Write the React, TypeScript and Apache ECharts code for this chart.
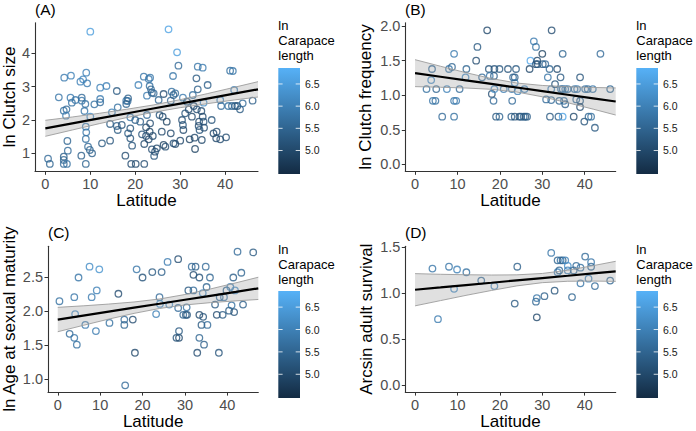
import React, { useEffect, useRef } from 'react';
import * as echarts from 'echarts';

// ---------- data ----------
const latTicks = [0, 10, 20, 30, 40];
const colorTicks = [5.0, 5.5, 6.0, 6.5];
const legendTitle = ['ln', 'Carapace', 'length'];
const fitLat = [0, 6, 12, 18, 24, 30, 36, 42, 47.3];

// [latitude, value, ln carapace length]
const clutchSize = [
  [0.6,0.84,5.6],[1.0,0.68,5.5],[3.0,2.68,5.8],[4.2,3.27,5.9],[4.1,2.28,5.7],[4.7,2.32,5.6],[4.6,2.13,5.9],[4.1,0.9,5.4],[4.1,0.8,5.5],[4.1,0.68,5.6],
  [4.8,0.68,5.7],[4.9,1.37,5.5],[5.0,1.08,5.6],[5.7,3.33,6.0],[5.6,2.67,5.9],[5.9,2.52,5.7],[6.7,2.6,5.8],[7.8,3.15,6.0],[8.4,3.22,6.1],[8.1,2.67,5.6],
  [8.1,2.58,5.8],[8.9,2.48,5.7],[9.1,3.42,6.0],[9.3,3.1,5.9],[8.7,2.27,5.8],[9.0,1.8,5.9],[9.1,1.63,5.8],[9.0,1.43,5.7],[8.0,0.93,5.4],[9.0,0.68,5.5],
  [9.5,1.2,5.6],[9.9,1.1,5.5],[10.4,1.0,5.4],[10.0,2.1,6.2],[10.0,4.65,6.5],[10.9,2.47,5.7],[12.2,2.63,5.9],[12.2,2.53,5.6],[12.2,2.97,6.0],[13.6,3.02,6.0],
  [12.6,1.3,5.3],[14.4,1.38,5.2],[14.4,1.88,5.3],[14.8,2.23,6.0],[15.9,2.87,5.3],[16.1,2.38,5.7],[15.9,1.82,5.4],[16.1,1.7,5.3],[17.0,1.85,5.2],[17.8,0.93,5.1],
  [18.0,2.58,5.8],[18.0,2.48,5.5],[18.4,2.65,5.4],[18.3,2.57,5.6],[18.4,1.6,5.3],[18.9,1.45,5.2],[19.1,0.68,5.1],[19.3,1.23,5.2],[18.9,1.75,5.2],[18.9,2.08,5.8],
  [20.1,0.68,5.0],[20.0,2.0,5.4],[20.7,3.05,6.0],[21.1,1.95,5.4],[21.9,3.3,5.8],[21.5,1.57,5.2],[22.0,0.68,5.1],[22.0,1.28,5.0],[22.4,1.52,5.1],[22.4,1.78,5.0],
  [22.6,2.15,5.6],[22.6,2.73,5.9],[23.0,3.23,5.9],[23.3,3.27,5.8],[23.2,3.02,5.7],[23.5,2.92,5.5],[23.7,2.82,5.4],[23.0,1.42,5.0],[23.3,1.9,5.1],[23.2,1.65,4.9],
  [24.1,2.8,5.6],[23.7,1.12,5.1],[24.2,0.92,5.2],[24.4,1.05,5.1],[24.8,1.15,5.0],[23.9,1.52,5.0],[25.2,2.6,5.5],[25.4,2.15,5.2],[25.9,1.65,5.0],[26.1,2.1,5.0],
  [26.3,2.78,5.1],[26.3,1.25,4.9],[26.7,1.2,5.1],[27.0,1.95,4.9],[27.9,1.6,5.0],[27.9,2.58,5.6],[28.1,2.85,5.7],[28.4,3.32,5.8],[28.5,2.75,5.4],[28.9,2.8,5.6],
  [28.5,1.3,5.2],[28.9,1.28,5.0],[27.4,4.72,6.6],[29.3,4.03,6.5],[29.6,3.63,5.6],[30.0,1.38,5.0],[30.4,2.0,5.1],[30.6,1.85,5.2],[30.7,1.7,5.0],[30.6,2.67,5.9],
  [31.1,2.2,5.2],[31.5,2.55,5.3],[31.9,2.32,5.0],[32.1,1.42,4.9],[32.6,2.1,5.0],[33.0,2.42,5.1],[32.8,2.75,5.7],[33.6,3.25,5.3],[33.3,1.13,4.9],[33.2,1.47,5.0],
  [33.7,2.32,5.1],[33.9,2.92,5.4],[33.9,3.6,5.8],[35.0,3.57,5.9],[34.2,1.95,5.0],[34.1,1.82,5.1],[34.3,1.7,5.2],[34.8,1.4,5.0],[34.7,2.27,5.1],[35.0,2.1,5.0],
  [35.2,1.95,5.2],[35.3,1.77,5.1],[35.2,2.52,6.2],[36.1,3.05,5.4],[37.0,2.0,5.2],[37.4,1.6,5.0],[38.1,1.65,5.1],[38.0,1.45,5.0],[38.9,1.42,5.1],[38.9,2.6,6.0],
  [39.1,2.42,5.6],[40.2,1.48,5.1],[40.7,2.42,5.7],[41.1,3.48,5.7],[41.7,3.47,5.8],[41.5,2.42,5.5],[42.0,2.9,6.0],[42.2,2.42,5.4],[42.7,2.42,5.2],[43.3,2.32,5.3],
  [43.9,2.5,5.6],[46.1,2.58,5.4],
];
const clutchSizeMid = [1.75, 1.898, 2.047, 2.195, 2.344, 2.492, 2.641, 2.789, 2.92];
const clutchSizeLow = [1.51, 1.70, 1.89, 2.07, 2.23, 2.37, 2.49, 2.60, 2.69];
const clutchSizeHigh = [1.99, 2.09, 2.20, 2.32, 2.45, 2.61, 2.79, 2.98, 3.15];

const clutchFreq = [
  [2.7,1.09,5.7],[4.0,1.38,5.6],[3.8,1.22,6.2],[4.2,0.92,5.8],[4.8,0.92,5.7],[5.0,1.09,5.5],[6.4,0.69,5.6],[7.5,1.09,6.0],[8.0,1.38,5.8],[8.7,1.41,5.5],
  [9.2,1.6,5.9],[9.2,0.69,5.7],[9.2,0.92,5.8],[9.7,0.92,5.9],[10.5,1.09,5.6],[12.1,1.38,5.5],[11.9,1.26,6.2],[14.4,1.5,5.1],[14.7,1.7,5.3],[15.8,1.26,5.6],
  [17.0,1.94,5.0],[17.4,1.38,5.2],[17.6,1.28,5.8],[18.1,1.02,5.1],[18.5,0.92,5.6],[18.6,1.28,5.4],[18.7,1.38,5.2],[18.7,1.09,6.2],[19.1,0.69,5.3],[19.9,1.38,5.3],
  [19.9,0.69,5.5],[20.9,1.09,5.9],[21.9,1.38,5.2],[22.7,0.69,5.4],[22.9,0.92,5.6],[22.8,1.09,5.9],[23.1,1.26,5.5],[23.5,1.18,6.0],[23.8,1.38,5.3],[23.5,1.26,5.4],
  [23.5,0.69,5.2],[24.2,1.06,6.0],[24.6,0.69,5.1],[25.0,0.69,5.3],[25.6,0.69,5.5],[26.0,0.69,5.2],[26.4,0.69,5.4],[25.8,1.09,6.0],[27.0,1.38,5.0],[27.2,1.5,6.7],
  [28.0,1.78,5.9],[28.5,1.7,5.7],[28.8,1.5,5.0],[28.5,1.45,5.1],[28.9,1.45,5.2],[30.0,1.6,4.9],[30.1,1.45,5.3],[30.7,1.45,5.6],[30.9,0.94,5.6],[31.3,1.26,5.8],
  [31.7,1.38,5.5],[31.8,0.69,5.3],[32.1,1.09,6.0],[32.1,0.93,5.6],[32.2,1.94,5.1],[33.0,1.16,5.2],[33.5,1.38,5.1],[33.8,0.69,5.4],[34.0,0.92,5.5],[34.3,1.26,5.3],
  [34.4,1.09,5.8],[34.8,0.69,6.6],[34.8,1.09,5.6],[35.1,0.92,5.7],[34.8,1.6,5.5],[35.4,1.09,5.9],[35.4,0.87,5.4],[36.0,1.09,5.7],[37.4,0.69,5.0],[37.6,1.09,5.8],
  [38.2,1.09,5.9],[38.0,0.94,5.6],[38.9,1.26,5.2],[38.9,0.92,5.4],[38.9,0.83,5.1],[39.9,0.62,5.2],[40.1,1.09,5.8],[40.7,1.09,5.6],[40.9,0.69,5.5],[41.5,0.69,5.7],
  [41.9,1.09,5.8],[42.4,0.53,5.3],[43.7,1.6,5.6],[46.0,1.09,5.5],
];
const clutchFreqMid = [1.32, 1.268, 1.216, 1.164, 1.112, 1.06, 1.008, 0.956, 0.91];
const clutchFreqLow = [1.125, 1.116, 1.105, 1.086, 1.047, 0.978, 0.892, 0.799, 0.714];
const clutchFreqHigh = [1.515, 1.42, 1.327, 1.242, 1.177, 1.142, 1.124, 1.113, 1.106];

const ageMaturity = [
  [0.4,2.15,5.7],[2.8,1.67,5.6],[3.9,2.21,5.8],[3.9,1.61,5.8],[4.1,1.96,6.2],[4.5,1.51,5.7],[4.9,2.5,5.8],[6.5,1.80,5.9],[7.5,2.66,6.2],[8.0,2.21,5.9],
  [9.2,2.31,6.0],[9.0,1.71,5.9],[9.8,2.62,6.3],[12.2,1.83,5.7],[14.3,2.26,5.1],[15.7,1.88,5.6],[15.7,1.80,5.5],[15.9,0.91,5.6],[17.7,1.88,5.1],[18.2,1.39,5.0],
  [18.6,2.62,5.8],[20.0,2.5,5.2],[22.3,2.58,5.3],[23.2,1.96,6.0],[24.0,2.21,5.6],[24.5,2.58,5.4],[24.1,2.11,6.2],[25.9,2.73,5.9],[26.3,2.1,6.2],[28.4,2.77,5.1],
  [28.0,1.61,5.2],[28.6,1.61,5.0],[28.6,1.71,5.3],[28.4,2.05,5.6],[29.6,1.95,5.5],[30.2,1.95,5.4],[30.5,1.95,5.2],[30.4,2.06,5.7],[30.8,2.31,5.3],[31.6,2.66,5.6],
  [32.5,2.66,5.4],[32.0,2.54,5.1],[32.0,2.31,5.6],[32.9,1.39,5.1],[33.4,2.5,5.2],[33.4,1.95,5.0],[33.4,1.61,5.5],[33.9,1.80,5.3],[34.3,1.92,5.2],[34.5,1.51,5.4],
  [34.2,2.27,6.1],[34.9,2.66,5.6],[35.1,2.36,5.5],[35.3,1.80,5.6],[35.9,2.5,5.5],[37.1,2.1,5.3],[37.5,1.95,5.1],[38.0,1.39,5.2],[38.2,2.21,5.6],[38.9,1.95,5.3],
  [39.2,2.21,5.8],[39.8,2.31,5.5],[40.4,2.01,5.3],[40.7,2.36,6.0],[41.0,2.09,5.7],[41.4,2.5,5.4],[41.6,1.99,5.2],[42.4,2.88,5.6],[43.3,2.57,5.5],[43.7,2.1,5.4],
  [46.1,2.87,5.3],[41.8,2.31,6.2],
];
const ageMaturityMid = [1.88, 1.938, 1.997, 2.055, 2.113, 2.172, 2.23, 2.288, 2.34];
const ageMaturityLow = [1.70, 1.794, 1.886, 1.971, 2.043, 2.095, 2.129, 2.155, 2.176];
const ageMaturityHigh = [2.06, 2.082, 2.108, 2.139, 2.183, 2.249, 2.331, 2.421, 2.504];

const adultSurvival = [
  [4.1,1.27,5.8],[5.4,0.72,5.9],[8.0,1.29,5.8],[9.2,1.05,6.2],[9.9,1.26,6.0],[12.1,1.23,5.7],[15.6,1.14,5.6],[18.7,1.08,6.1],[23.5,0.89,5.3],[24.1,1.29,5.4],
  [28.5,0.91,5.5],[28.7,0.95,5.8],[28.7,0.74,5.0],[30.5,0.97,5.4],[32.1,1.44,5.8],[32.9,1.03,5.2],[33.6,1.36,5.5],[34.3,1.36,5.7],[34.8,1.36,5.4],[35.4,1.36,6.0],
  [33.6,1.23,6.0],[34.0,1.25,5.5],[36.0,1.30,6.2],[36.0,1.25,6.0],[37.0,0.96,5.5],[38.0,1.30,5.6],[37.4,1.25,5.5],[39.0,1.28,5.7],[39.0,1.11,5.8],[40.1,1.40,5.6],
  [40.9,1.16,6.0],[41.5,1.34,5.8],[41.5,1.29,5.6],[42.4,1.08,5.6],[46.0,1.14,5.5],
];
const adultSurvivalMid = [1.04, 1.065, 1.091, 1.116, 1.142, 1.167, 1.192, 1.218, 1.24];
const adultSurvivalLow = [0.865, 0.922, 0.979, 1.032, 1.082, 1.117, 1.132, 1.134, 1.131];
const adultSurvivalHigh = [1.215, 1.208, 1.203, 1.2, 1.202, 1.217, 1.252, 1.302, 1.349];

const clutchSizeTicks = [1, 2, 3, 4];
const clutchFreqTicks = [0, 0.5, 1.0, 1.5, 2.0];
const ageMaturityTicks = [1.0, 1.5, 2.0, 2.5];
const adultSurvivalTicks = [0, 0.5, 1.0, 1.5];

// ---------- layout / style ----------
const FONT = '"Liberation Sans", Arial, sans-serif';
const C_MIN = 4.47;
const C_MAX = 6.86;
const LOW_COLOR = '#132B43';
const HIGH_COLOR = '#56B1F7';
const RING = 'path://M10,0A10,10,0,1,1,-10,0A10,10,0,1,1,10,0ZM6.7,0A6.7,6.7,0,1,0,-6.7,0A6.7,6.7,0,1,0,6.7,0Z';
const PER = 5; // series per panel

const panels = [
  { label: '(A)', yName: 'ln Clutch size', points: clutchSize, mid: clutchSizeMid, low: clutchSizeLow, high: clutchSizeHigh,
    yTicks: clutchSizeTicks, digits: 0, yMin: 0.46, yMax: 4.92,
    grid: { left: 35, top: 22.7, width: 223, height: 148.6 }, yGap: 17,
    labelXY: [35, 9], bar: { x: 278.3, top: 68, height: 106, titleY: 25 } },
  { label: '(B)', yName: 'ln Clutch frequency', points: clutchFreq, mid: clutchFreqMid, low: clutchFreqLow, high: clutchFreqHigh,
    yTicks: clutchFreqTicks, digits: 1, yMin: -0.1, yMax: 2.05,
    grid: { left: 405.3, top: 22.7, width: 210.4, height: 148.6 }, yGap: 31,
    labelXY: [405, 9], bar: { x: 636.3, top: 68, height: 106, titleY: 25 } },
  { label: '(C)', yName: 'ln Age at sexual maturity', points: ageMaturity, mid: ageMaturityMid, low: ageMaturityLow, high: ageMaturityHigh,
    yTicks: ageMaturityTicks, digits: 1, yMin: 0.81, yMax: 2.96,
    grid: { left: 47.7, top: 246.3, width: 210.6, height: 148 }, yGap: 30,
    labelXY: [48, 232], bar: { x: 278.3, top: 291, height: 107, titleY: 249 } },
  { label: '(D)', yName: 'Arcsin adult survival', points: adultSurvival, mid: adultSurvivalMid, low: adultSurvivalLow, high: adultSurvivalHigh,
    yTicks: adultSurvivalTicks, digits: 1, yMin: -0.072, yMax: 1.512,
    grid: { left: 405.3, top: 246.3, width: 210.4, height: 148.4 }, yGap: 30,
    labelXY: [405, 232], bar: { x: 636.3, top: 291, height: 107, titleY: 249 } },
];

function buildOption() {
  const grid: any[] = [];
  const xAxis: any[] = [];
  const yAxis: any[] = [];
  const series: any[] = [];
  const visualMap: any[] = [];
  const graphic: any[] = [];

  panels.forEach((p, i) => {
    grid.push({ ...p.grid, containLabel: false });
    xAxis.push({
      gridIndex: i, type: 'value', min: -2.3, max: 47.3,
      name: 'Latitude', nameLocation: 'middle', nameGap: 18,
      nameTextStyle: { fontSize: 17, color: '#000', fontFamily: FONT },
      axisLine: { show: true, onZero: false, lineStyle: { color: '#333', width: 1.1 } },
      axisTick: { show: true, length: 3.5, lineStyle: { color: '#333', width: 1 }, customValues: latTicks },
      axisLabel: { color: '#4D4D4D', fontSize: 14.5, margin: 5, fontFamily: FONT, customValues: latTicks },
      splitLine: { show: false },
    });
    yAxis.push({
      gridIndex: i, type: 'value', min: p.yMin, max: p.yMax,
      name: p.yName, nameLocation: 'middle', nameGap: p.yGap, nameRotate: 90,
      nameTextStyle: { fontSize: 17, color: '#000', fontFamily: FONT },
      axisLine: { show: true, onZero: false, lineStyle: { color: '#333', width: 1.1 } },
      axisTick: { show: true, length: 3.5, lineStyle: { color: '#333', width: 1 }, customValues: p.yTicks },
      axisLabel: {
        color: '#4D4D4D', fontSize: 14.5, margin: 5, fontFamily: FONT, customValues: p.yTicks,
        formatter: (v: number) => v.toFixed(p.digits),
      },
      splitLine: { show: false },
    });
    visualMap.push({
      type: 'continuous', show: false, seriesIndex: i * PER, dimension: 2,
      min: C_MIN, max: C_MAX, inRange: { color: [LOW_COLOR, HIGH_COLOR] },
    });
    // points
    series.push({
      type: 'scatter', xAxisIndex: i, yAxisIndex: i, data: p.points,
      symbol: RING, symbolSize: 7.8, z: 2, silent: true,
    });
    // confidence ribbon
    series.push({
      type: 'custom', xAxisIndex: i, yAxisIndex: i, silent: true, z: 3,
      data: [[fitLat[4], p.mid[4]]],
      renderItem: (_params: any, api: any) => {
        const pts: number[][] = [];
        fitLat.forEach((x, k) => pts.push(api.coord([x, p.high[k]])));
        for (let k = fitLat.length - 1; k >= 0; k--) pts.push(api.coord([fitLat[k], p.low[k]]));
        return { type: 'polygon', shape: { points: pts }, style: { fill: 'rgba(153,153,153,0.3)', stroke: 'none' } };
      },
    });
    series.push({
      type: 'line', xAxisIndex: i, yAxisIndex: i, symbol: 'none', silent: true,
      data: fitLat.map((x, k) => [x, p.low[k]]),
      lineStyle: { color: '#9C9C9C', width: 0.9 }, z: 3,
    });
    series.push({
      type: 'line', xAxisIndex: i, yAxisIndex: i, symbol: 'none', silent: true,
      data: fitLat.map((x, k) => [x, p.high[k]]),
      lineStyle: { color: '#9C9C9C', width: 0.9 }, z: 3,
    });
    // fitted line
    series.push({
      type: 'line', xAxisIndex: i, yAxisIndex: i, symbol: 'none', silent: true,
      data: fitLat.map((x, k) => [x, p.mid[k]]),
      lineStyle: { color: '#000', width: 2.2 }, z: 4,
    });

    // panel label
    graphic.push({
      type: 'text', x: p.labelXY[0], y: p.labelXY[1],
      style: { text: p.label, fontSize: 15.5, fontFamily: FONT, fill: '#000', textAlign: 'left', textVerticalAlign: 'middle', align: 'left', verticalAlign: 'middle' },
    });
    // colorbar
    const b = p.bar;
    legendTitle.forEach((t, k) => {
      graphic.push({
        type: 'text', x: b.x, y: b.titleY + 15 * k,
        style: { text: t, fontSize: 13, fontFamily: FONT, fill: '#000', textAlign: 'left', textVerticalAlign: 'middle', align: 'left', verticalAlign: 'middle' },
      });
    });
    const barW = 21.7;
    graphic.push({
      type: 'rect', shape: { x: b.x, y: b.top, width: barW, height: b.height },
      style: {
        fill: new echarts.graphic.LinearGradient(0, 0, 0, 1, [
          { offset: 0, color: HIGH_COLOR }, { offset: 1, color: LOW_COLOR },
        ]),
      },
    });
    colorTicks.forEach((v) => {
      const y = b.top + b.height - ((v - C_MIN) / (C_MAX - C_MIN)) * b.height;
      graphic.push({ type: 'line', shape: { x1: b.x, y1: y, x2: b.x + 4.3, y2: y }, style: { stroke: 'rgba(255,255,255,0.8)', lineWidth: 1 } });
      graphic.push({ type: 'line', shape: { x1: b.x + barW - 4.3, y1: y, x2: b.x + barW, y2: y }, style: { stroke: 'rgba(255,255,255,0.8)', lineWidth: 1 } });
      graphic.push({
        type: 'text', x: b.x + barW + 5, y,
        style: { text: v.toFixed(1), fontSize: 10.5, fontFamily: FONT, fill: '#1A1A1A', textAlign: 'left', textVerticalAlign: 'middle', align: 'left', verticalAlign: 'middle' },
      });
    });
  });

  return {
    animation: false,
    backgroundColor: '#fff',
    textStyle: { fontFamily: FONT },
    grid, xAxis, yAxis, series, visualMap, graphic,
  };
}

export default function App() {
  const ref = useRef<HTMLDivElement>(null);
  useEffect(() => {
    document.body.style.margin = '0';
    if (!ref.current) return;
    const chart = echarts.init(ref.current, undefined, { renderer: 'svg' });
    chart.setOption(buildOption() as any);
    return () => chart.dispose();
  }, []);
  return <div ref={ref} style={{ width: 696, height: 431 }} />;
}
